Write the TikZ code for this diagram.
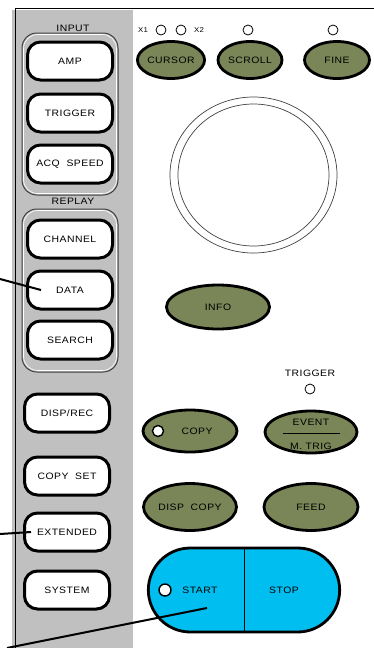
\documentclass[tikz,border=0pt]{standalone}
\usepackage{fontspec}
\usetikzlibrary{shapes.geometric,shapes.misc}
\newfontfamily\panelfont[FakeStretch=1.12,LetterSpace=5]{Liberation Sans}
\definecolor{panelgray}{RGB}{192,192,192}
\definecolor{knobgreen}{RGB}{122,134,88}
\definecolor{startblue}{RGB}{0,190,240}
\tikzset{
  keybox/.style={draw, line width=3pt, fill=white, rounded corners=13pt,
    minimum width=85pt, minimum height=38pt, inner sep=0pt,
    font=\panelfont\fontsize{9.3}{10}\selectfont},
  knob/.style={ellipse, draw, line width=2.8pt, fill=knobgreen, inner sep=0pt,
    font=\panelfont\fontsize{9.3}{10}\selectfont},
  lamp/.style={circle, draw, line width=0.8pt, fill=white, minimum size=10pt, inner sep=0pt},
  grouplbl/.style={font=\panelfont\fontsize{9.3}{10}\selectfont, inner sep=0pt},
  smalllbl/.style={font=\panelfont\fontsize{7}{8}\selectfont, inner sep=0pt},
  groupbox/.style={draw=black!75, line width=1pt, rounded corners=15pt},
  pointer/.style={line width=2pt},
}
\begin{document}
\begin{tikzpicture}[x=1pt,y=-1pt]
  \useasboundingbox (0,0) rectangle (374,648);
  % panel
  \fill[panelgray] (12,10) rectangle (133,648);
  \draw[line width=0.8pt] (15,648) -- (15,8) -- (374,8);

  % input group
  \node[grouplbl] (inputlbl) at (73,28) {INPUT};
  \draw[groupbox] (22,33) rectangle (118,195);
  \draw[white, line width=0.6pt, rounded corners=14pt] (23.5,34.5) rectangle (116.5,193.5);
  \node[keybox] (amp) at (70,61) {AMP};
  \node[keybox] (trigger) at (70,113) {TRIGGER};
  \node[keybox] (acqspeed) at (70,164) {ACQ\ \ SPEED};

  % replay group
  \node[grouplbl] (replaylbl) at (73,201) {REPLAY};
  \draw[groupbox] (22,209) rectangle (118,372);
  \draw[white, line width=0.6pt, rounded corners=14pt] (23.5,210.5) rectangle (116.5,370.5);
  \node[keybox] (channel) at (70,239) {CHANNEL};
  \node[keybox] (data) at (70,290) {DATA};
  \node[keybox] (search) at (70,340) {SEARCH};

  % other keys
  \node[keybox] (disprec) at (67,413) {DISP/REC};
  \node[keybox] (copyset) at (67,476) {COPY\ \ SET};
  \node[keybox] (extended) at (67,532) {EXTENDED};
  \node[keybox] (system) at (67,590) {SYSTEM};

  % cursor row
  \node[smalllbl] (xone) at (143,30) {X1};
  \node[lamp] (lampxone) at (161,30) {};
  \node[lamp] (lampxtwo) at (181,30) {};
  \node[smalllbl] (xtwo) at (199,30) {X2};
  \node[lamp] (lampscroll) at (248,30) {};
  \node[lamp] (lampfine) at (333,30) {};
  \node[knob, minimum width=66pt, minimum height=37pt] (cursor) at (171,60) {CURSOR};
  \node[knob, minimum width=64pt, minimum height=37pt] (scroll) at (250,60) {SCROLL};
  \node[knob, minimum width=65pt, minimum height=37pt] (fine) at (337,60) {FINE};

  % dial
  \draw[black!75, line width=0.7pt] (253.5,175) ellipse (83.5 and 78);
  \draw[black!75, line width=0.7pt] (253.5,175) ellipse (75.5 and 71);

  \node[knob, minimum width=103pt, minimum height=44pt] (info) at (218,307) {INFO};

  \node[grouplbl] (triggerlbl) at (310,373) {TRIGGER};
  \node[lamp] (lamptrigger) at (310,389) {};

  \node[knob, minimum width=94pt, minimum height=42pt] (copy) at (190,431) {\hspace{14pt}COPY};
  \node[lamp, line width=1.4pt, minimum size=11pt] (lampcopy) at (158,431) {};
  \node[knob, minimum width=92pt, minimum height=42pt] (event) at (311,432) {};
  \node[grouplbl] (eventlbl) at (311,422) {EVENT};
  \node[grouplbl] (mtriglbl) at (311,446) {M.\ TRIG};
  \draw[line width=0.9pt] (283,433) -- (340,433);

  \node[knob, minimum width=93pt, minimum height=47pt] (dispcopy) at (190,507) {DISP\ \ COPY};
  \node[knob, minimum width=94pt, minimum height=47pt] (feed) at (311,507) {FEED};

  % start / stop
  \node[rounded rectangle, draw, line width=2.8pt, fill=startblue,
    minimum width=198pt, minimum height=84pt] (startstop) at (244,590) {};
  \draw[line width=0.9pt] (startstop.north) -- (startstop.south);
  \node[lamp, line width=1.4pt, minimum size=12pt] (lampstart) at (165,590) {};
  \node[grouplbl] (start) at (200,590) {START};
  \node[grouplbl] (stop) at (284,590) {STOP};

  % pointers
  \coordinate (datatail) at (0,279);
  \coordinate (exttail) at (0,534);
  \coordinate (starttail) at (7,648);
  \coordinate (startend) at (207,608);
  \draw[pointer] (datatail) -- ([xshift=15pt]data.west);
  \draw[pointer] (exttail) -- ([xshift=8pt]extended.west);
  \draw[pointer] (starttail) -- (startend);
\end{tikzpicture}
\end{document}
